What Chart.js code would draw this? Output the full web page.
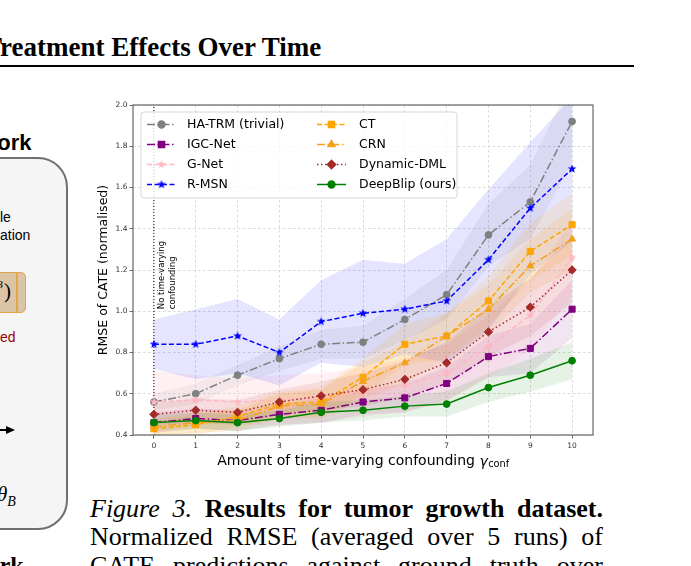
<!DOCTYPE html>
<html>
<head>
<meta charset="utf-8">
<title>Results for tumor growth dataset</title>
<script src="https://cdn.jsdelivr.net/npm/chart.js@4.4.1/dist/chart.umd.min.js"></script>
<style>
  html, body { margin: 0; padding: 0; }
  body { width: 691px; height: 566px; overflow: hidden; background: #fff; position: relative; }
  .t { position: absolute; white-space: nowrap; color: #000; }
  .serif { font-family: "Liberation Serif", "Times New Roman", serif; }
  .sans { font-family: "Liberation Sans", Arial, sans-serif; }
  .cap { position: absolute; left: 90px; width: 513px; font: 26px/27px "Liberation Serif", serif;
         text-align: justify; text-align-last: justify; color: #000; }
  #wrap { position: absolute; left: 0; top: 0; width: 691px; height: 566px; }
</style>
</head>
<body>

<!-- running header -->
<div class="t serif" style="left:-16px;top:34px;font-weight:bold;font-size:27px;line-height:27px">Treatment Effects Over Time</div>
<div style="position:absolute;left:0;top:65px;width:634px;height:2px;background:#000"></div>

<!-- neighbouring figure, cut at the left edge -->
<div class="t sans" style="left:-23px;top:132px;font-weight:bold;font-size:22px;line-height:22px">Work</div>
<div style="position:absolute;left:-40px;top:157px;width:108px;height:373px;box-sizing:border-box;border:2px solid #707070;border-radius:30px;background:#f5f5f5"></div>
<div class="t sans" style="left:0;top:210px;font-size:14px;line-height:14px">le</div>
<div class="t sans" style="left:0;top:228px;font-size:14px;line-height:14px">ation</div>
<div style="position:absolute;left:-30px;top:272px;width:56px;height:41px;box-sizing:border-box;border:1.5px solid #e3a64a;border-radius:5px;background:#dcc5a6"></div>
<div style="position:absolute;left:16px;top:273px;width:1.5px;height:39px;background:#e3a64a"></div>
<div class="t serif" style="left:-4px;top:279px;font-style:italic;font-size:11px;line-height:11px">B</div>
<div class="t serif" style="left:4px;top:281px;font-size:21px;line-height:21px">)</div>
<div class="t sans" style="left:0;top:330px;font-size:14px;line-height:14px;color:#a00000">ed</div>
<div style="position:absolute;left:-20px;top:429px;width:28px;height:2px;background:#000"></div>
<div style="position:absolute;left:6px;top:426px;width:0;height:0;border-left:9px solid #000;border-top:4px solid transparent;border-bottom:4px solid transparent"></div>
<div class="t serif" style="left:-3px;top:484px;font-style:italic;font-size:21px;line-height:21px">θ<sub style="font-size:14px">B</sub></div>
<div class="t serif" style="left:-35px;top:553px;font-weight:bold;font-size:24px;line-height:24px">Work</div>

<!-- caption -->
<div class="cap" style="top:495px"><i>Figure 3.</i> <b>Results for tumor growth dataset.</b></div>
<div class="cap" style="top:523px">Normalized RMSE (averaged over 5 runs) of</div>
<div class="cap" style="top:552px">CATE predictions against ground truth over</div>

<div id="wrap"><canvas id="chart"></canvas></div>

<script>
// ===== DATA =====
const gammas = [0, 1, 2, 3, 4, 5, 6, 7, 8, 9, 10];
const yTickValues = [0.4, 0.6, 0.8, 1.0, 1.2, 1.4, 1.6, 1.8, 2.0];
const seriesNames = ['HA-TRM (trivial)', 'IGC-Net', 'G-Net', 'R-MSN', 'CT', 'CRN', 'Dynamic-DML', 'DeepBlip (ours)'];

// mean RMSE of CATE per confounding level
const haTrm    = [0.56, 0.60, 0.69, 0.77, 0.84, 0.85, 0.96, 1.08, 1.37, 1.53, 1.92];
const igcNet   = [0.46, 0.48, 0.47, 0.50, 0.52, 0.56, 0.58, 0.65, 0.78, 0.82, 1.01];
const gNet     = [0.56, 0.57, 0.56, 0.57, 0.58, 0.61, 0.64, 0.70, 0.83, 0.98, 1.26];
const rMsn     = [0.84, 0.84, 0.88, 0.80, 0.95, 0.99, 1.01, 1.05, 1.25, 1.50, 1.69];
const ct       = [0.43, 0.45, 0.49, 0.55, 0.56, 0.68, 0.84, 0.88, 1.05, 1.29, 1.42];
const crn      = [0.44, 0.46, 0.47, 0.54, 0.55, 0.66, 0.75, 0.88, 1.01, 1.22, 1.35];
const dynDml   = [0.50, 0.52, 0.51, 0.56, 0.59, 0.62, 0.67, 0.75, 0.90, 1.02, 1.20];
const deepBlip = [0.46, 0.47, 0.46, 0.48, 0.51, 0.52, 0.54, 0.55, 0.63, 0.69, 0.76];

// half-width of the shaded band (std over runs)
const haTrmSd    = [0.04, 0.05, 0.05, 0.06, 0.07, 0.08, 0.10, 0.12, 0.15, 0.18, 0.20];
const igcNetSd   = [0.05, 0.05, 0.05, 0.05, 0.06, 0.06, 0.07, 0.08, 0.10, 0.12, 0.14];
const gNetSd     = [0.15, 0.12, 0.11, 0.12, 0.12, 0.12, 0.13, 0.14, 0.15, 0.17, 0.18];
const rMsnSd     = [0.12, 0.17, 0.18, 0.16, 0.20, 0.26, 0.22, 0.30, 0.34, 0.32, 0.35];
const ctSd       = [0.04, 0.05, 0.05, 0.06, 0.07, 0.09, 0.10, 0.11, 0.12, 0.14, 0.15];
const crnSd      = [0.04, 0.05, 0.05, 0.06, 0.07, 0.09, 0.10, 0.11, 0.12, 0.13, 0.15];
const dynDmlSd   = [0.05, 0.06, 0.06, 0.06, 0.07, 0.08, 0.09, 0.10, 0.12, 0.14, 0.16];
const deepBlipSd = [0.04, 0.04, 0.04, 0.04, 0.05, 0.05, 0.05, 0.06, 0.07, 0.08, 0.09];

const means   = [haTrm, igcNet, gNet, rMsn, ct, crn, dynDml, deepBlip];
const spreads = [haTrmSd, igcNetSd, gNetSd, rMsnSd, ctSd, crnSd, dynDmlSd, deepBlipSd];

// ===== STYLE =====
const DASHED = [5, 2.5];
const DASHDOT = [8, 2.5, 1.5, 2.5];
const DOTTED = [1.5, 2.5];

// matplotlib-like filled star marker
function starMarker(color, r) {
    const c = document.createElement('canvas');
    const s = Math.ceil(r * 2 + 2);
    c.width = c.height = s;
    const g = c.getContext('2d');
    g.beginPath();
    for (let i = 0; i < 10; i++) {
        const a = -Math.PI / 2 + i * Math.PI / 5;
        const rr = i % 2 ? r * 0.42 : r;
        g.lineTo(s / 2 + rr * Math.cos(a), s / 2 + rr * Math.sin(a));
    }
    g.closePath();
    g.fillStyle = color;
    g.fill();
    return c;
}

const styles = [
    { color: '#808080', dash: DASHDOT, marker: 'circle', r: 3.4, alpha: 0.10 },
    { color: '#800080', dash: DASHDOT, marker: 'rect', r: 4.3, alpha: 0.10 },
    { color: '#ffb6c1', dash: DASHED, marker: starMarker('#ffb6c1', 4.6), r: 4, alpha: 0.20 },
    { color: '#0000ff', dash: DASHED, marker: starMarker('#0000ff', 4.6), r: 4, alpha: 0.10 },
    { color: '#ffa500', dash: DASHED, marker: 'rect', r: 4.3, alpha: 0.12 },
    { color: '#f5a01a', dash: DASHDOT, marker: 'triangle', r: 4, alpha: 0.12 },
    { color: '#a52a2a', dash: DOTTED, marker: 'rectRot', r: 4.2, alpha: 0.10 },
    { color: '#008000', dash: [], marker: 'circle', r: 3.4, alpha: 0.10 }
];

function rgba(hex, a) {
    const n = parseInt(hex.slice(1), 16);
    return `rgba(${n >> 16},${(n >> 8) & 255},${n & 255},${a})`;
}
const toXY = vals => gammas.map((g, i) => ({ x: g, y: vals[i] }));

// ===== DATASETS =====
const datasets = [];
means.forEach((m, k) => {
    const s = styles[k];
    const sd = spreads[k];
    // band: upper edge filled down to the lower edge that follows it
    datasets.push({
        label: seriesNames[k] + ' upper', data: toXY(m.map((v, i) => v + sd[i])),
        fill: '+1', backgroundColor: rgba(s.color, s.alpha), borderWidth: 0, pointRadius: 0, order: 100 - k
    });
    datasets.push({
        label: seriesNames[k] + ' lower', data: toXY(m.map((v, i) => v - sd[i])),
        fill: false, borderWidth: 0, pointRadius: 0, order: 100 - k
    });
});
means.forEach((m, k) => {
    const s = styles[k];
    datasets.push({
        label: seriesNames[k], data: toXY(m), fill: false,
        borderColor: s.color, backgroundColor: s.color, borderWidth: 1.5, borderDash: s.dash,
        pointStyle: s.marker, pointRadius: s.r, pointBorderWidth: 1, tension: 0, order: 50 - k
    });
});
// "no time-varying confounding" reference line at gamma = 0
datasets.push({
    label: 'gamma0', data: [{ x: gammas[0], y: yTickValues[0] }, { x: gammas[0], y: yTickValues[yTickValues.length - 1] }],
    borderColor: '#000', borderWidth: 1, borderDash: [1, 2], pointRadius: 0, fill: false, order: 60
});

// ===== PLUGINS =====
const framePlugin = {
    id: 'frame',
    afterDraw(chart) {
        const { ctx, chartArea: a } = chart;
        ctx.save();
        ctx.strokeStyle = '#666';
        ctx.lineWidth = 1.2;
        ctx.strokeRect(a.left, a.top, a.right - a.left, a.bottom - a.top);
        ctx.restore();
    }
};

const notePlugin = {
    id: 'note',
    afterDatasetsDraw(chart) {
        const { ctx, scales: { x, y } } = chart;
        ctx.save();
        ctx.translate(x.getPixelForValue(0) + 4, y.getPixelForValue(1.01));
        ctx.rotate(-Math.PI / 2);
        ctx.font = '8.5px "DejaVu Sans"';
        ctx.fillStyle = '#000';
        ctx.textAlign = 'left';
        ctx.textBaseline = 'top';
        ctx.fillText('No time-varying', 0, 0);
        ctx.fillText('confounding', 0, 11);
        ctx.restore();
    }
};

const xTitlePlugin = {
    id: 'xTitle',
    afterDraw(chart) {
        const { ctx, chartArea: a } = chart;
        const main = 'Amount of time-varying confounding ';
        ctx.save();
        ctx.fillStyle = '#000';
        ctx.textBaseline = 'middle';
        ctx.font = '14px "DejaVu Sans"';
        const w1 = ctx.measureText(main).width;
        ctx.font = 'italic 14px "DejaVu Sans"';
        const wg = ctx.measureText('γ').width;
        ctx.font = '9.8px "DejaVu Sans"';
        const w2 = ctx.measureText('conf').width;
        let x0 = (a.left + a.right) / 2 - (w1 + wg + w2) / 2;
        const yc = a.bottom + 26;
        ctx.font = '14px "DejaVu Sans"';
        ctx.fillText(main, x0, yc);
        ctx.font = 'italic 14px "DejaVu Sans"';
        ctx.fillText('γ', x0 + w1, yc + 1);
        ctx.font = '9.8px "DejaVu Sans"';
        ctx.fillText('conf', x0 + w1 + wg + 0.5, yc + 3.5);
        ctx.restore();
    }
};

const legendPlugin = {
    id: 'panelLegend',
    afterDraw(chart) {
        const { ctx, chartArea: a } = chart;
        const bx = a.left + 8, by = a.top + 7, bw = 316, bh = 86;
        ctx.save();
        ctx.beginPath();
        ctx.roundRect(bx, by, bw, bh, 3);
        ctx.fillStyle = 'rgba(255,255,255,0.8)';
        ctx.fill();
        ctx.strokeStyle = '#d6d6d6';
        ctx.lineWidth = 1;
        ctx.stroke();
        ctx.font = '12.5px "DejaVu Sans"';
        ctx.textBaseline = 'middle';
        ctx.textAlign = 'left';
        seriesNames.forEach((name, k) => {
            const s = styles[k];
            const col = Math.floor(k / 4), row = k % 4;
            const hx = bx + 6 + col * 170;
            const ty = by + 12.5 + row * 20;
            ctx.strokeStyle = s.color;
            ctx.lineWidth = 1.5;
            ctx.setLineDash(s.dash);
            ctx.beginPath();
            ctx.moveTo(hx, ty);
            ctx.lineTo(hx + 29, ty);
            ctx.stroke();
            ctx.setLineDash([]);
            ctx.fillStyle = s.color;
            Chart.helpers.drawPoint(ctx, { pointStyle: s.marker, radius: s.r, borderWidth: 1, rotation: 0 }, hx + 14.5, ty);
            ctx.fillStyle = '#000';
            ctx.fillText(name, hx + 40 + col * 2, ty + 0.5);
        });
        ctx.restore();
    }
};

// ===== CHART =====
Chart.defaults.font.family = '"DejaVu Sans", sans-serif';

new Chart(document.getElementById('chart'), {
    type: 'line',
    data: { datasets },
    options: {
        responsive: true,
        maintainAspectRatio: false,
        animation: false,
        events: [],
        layout: { autoPadding: false, padding: { left: 90, top: 105, right: 98, bottom: 91 } },
        plugins: { legend: { display: false }, tooltip: { enabled: false } },
        scales: {
            x: {
                type: 'linear', min: -0.5, max: 10.5,
                afterBuildTicks: s => { s.ticks = gammas.map(v => ({ value: v })); },
                afterFit: s => { s.height = 40; },
                ticks: { font: { size: 7.5 }, color: '#333', padding: 3, maxRotation: 0, callback: v => String(v) },
                grid: { color: '#cfcfcf', lineWidth: 0.8, tickColor: '#444', tickLength: 3.5, tickWidth: 0.8 },
                border: { display: false, dash: [2.5, 2.5] }
            },
            y: {
                type: 'linear', min: 0.4, max: 2.0,
                afterBuildTicks: s => { s.ticks = yTickValues.map(v => ({ value: v })); },
                afterFit: s => { s.width = 43; },
                ticks: { font: { size: 7.5 }, color: '#333', padding: 2, callback: v => v.toFixed(1) },
                grid: { color: '#cfcfcf', lineWidth: 0.8, tickColor: '#444', tickLength: 3.5, tickWidth: 0.8 },
                border: { display: false, dash: [2.5, 2.5] },
                title: { display: true, text: 'RMSE of CATE (normalised)', color: '#000', font: { size: 12.5 }, padding: { top: 6, bottom: 0 } }
            }
        }
    },
    plugins: [notePlugin, framePlugin, legendPlugin, xTitlePlugin]
});
</script>
</body>
</html>
